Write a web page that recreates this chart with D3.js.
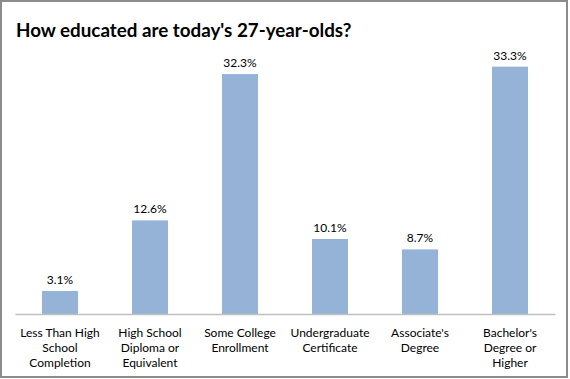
<!DOCTYPE html>
<html><head><meta charset="utf-8">
<script src="https://cdn.jsdelivr.net/npm/d3@7"></script>
<style>body{margin:0;background:#fff}svg{display:block}</style>
</head><body>
<script>
const categories = [
  ["Less Than High", "School", "Completion"],
  ["High School", "Diploma or", "Equivalent"],
  ["Some College", "Enrollment"],
  ["Undergraduate", "Certificate"],
  ["Associate's", "Degree"],
  ["Bachelor's", "Degree or", "Higher"]
];
const values = [3.1, 12.6, 32.3, 10.1, 8.7, 33.3];
const valueLabels = ["3.1%", "12.6%", "32.3%", "10.1%", "8.7%", "33.3%"];
const title = "How educated are today's 27-year-olds?";

const W = 570, H = 379;
const svg = d3.select("body").append("svg").attr("width", W).attr("height", H);
svg.append("rect").attr("x", 1).attr("y", 1).attr("width", 566).attr("height", 376)
  .attr("fill", "#fff").attr("stroke", "#8c8c8c").attr("stroke-width", 2);

const font = "Lato, 'Open Sans', sans-serif";
svg.append("text").attr("x", 16).attr("y", 37).text(title)
  .attr("font-family", font).attr("font-weight", "bold").attr("font-size", 18.8).attr("fill", "#000");

const idx = d3.range(values.length);
const x = d3.scaleBand().domain(idx).range([15, 555]).paddingInner(0.6).paddingOuter(0.3);
const y = d3.scaleLinear().domain([0, 35]).range([314, 54]);

svg.selectAll("rect.bar").data(idx).join("rect").attr("class", "bar")
  .attr("x", i => x(i)).attr("width", x.bandwidth())
  .attr("y", i => y(values[i])).attr("height", i => y(0) - y(values[i]))
  .attr("fill", "#95b3d7");

const axis = svg.append("g").attr("transform", `translate(0,${y(0)})`)
  .call(d3.axisBottom(x).tickSize(0).tickFormat(""));
axis.select(".domain").attr("stroke", "#bfbfbf").attr("stroke-width", 1.5);

svg.selectAll("text.val").data(idx).join("text").attr("class", "val")
  .attr("x", i => x(i) + x.bandwidth() / 2).attr("y", i => y(values[i]) - 7)
  .attr("text-anchor", "middle").attr("font-family", font).attr("font-size", 12)
  .attr("fill", "#000").text(i => valueLabels[i]);

const cat = svg.selectAll("text.cat").data(idx).join("text").attr("class", "cat")
  .attr("text-anchor", "middle").attr("font-family", font).attr("font-size", 12).attr("fill", "#000");
cat.each(function(i) {
  const t = d3.select(this);
  categories[i].forEach((line, k) => {
    t.append("tspan").attr("x", x(i) + x.bandwidth() / 2).attr("y", 337 + k * 15).text(line);
  });
});
</script>
</body></html>
